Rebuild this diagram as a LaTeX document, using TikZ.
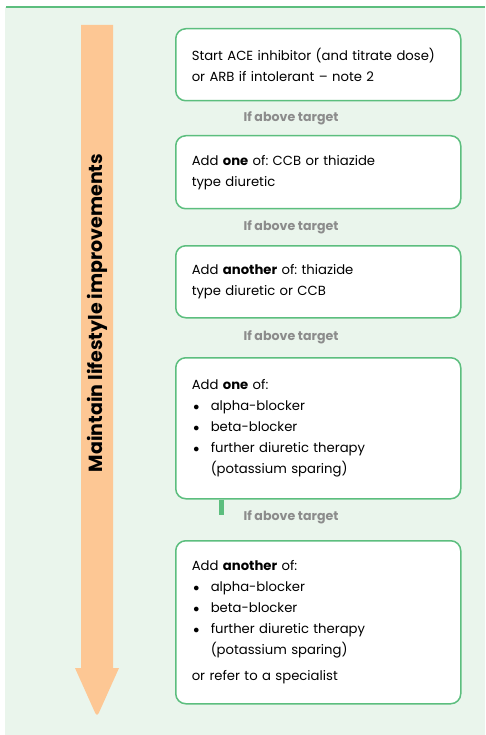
\documentclass[tikz,border=0pt]{standalone}
\usepackage{fontspec}
\setmainfont{Poppins}
\frenchspacing
\usetikzlibrary{positioning}
\definecolor{panelgreen}{HTML}{EAF5EC}
\definecolor{linegreen}{HTML}{5CBE7E}
\definecolor{arroworange}{HTML}{FDC794}
\definecolor{labelgrey}{HTML}{8C8C8C}
\newcommand{\stepfont}{\fontsize{13.2}{21}\selectfont}
\newcommand{\ifabovefont}{\bfseries\fontsize{12.6}{14}\selectfont}
\newcommand{\bitem}{\makebox[19pt][l]{\hspace{1.5pt}$\bullet$}}
\tikzstyle{stepbox}=[draw=linegreen, line width=1.5pt, fill=white, rounded corners=10pt,
                     text width=253pt, inner xsep=16pt, inner ysep=0pt, align=left,
                     font=\stepfont, anchor=north west]
\tikzstyle{ifabove}=[font=\ifabovefont, text=labelgrey, inner sep=0pt]
\tikzstyle{stub}=[draw=linegreen, line width=5pt]

\begin{document}
\begin{tikzpicture}[x=1pt, y=-1pt]
    \useasboundingbox (0,0) rectangle (485,735);
    % Panel and top rule
    \fill[panelgreen] (5,7) rectangle (485,735);
    \draw[linegreen, line width=2pt] (6,7) -- (485,7);
    % Lifestyle arrow
    \fill[arroworange] (81,25) -- (113,25) -- (113,668) -- (119,668)
        [rounded corners=4pt] -- (97,717) [sharp corners] -- (75,668) -- (81,668) -- cycle;
    \node[rotate=90, font=\bfseries\fontsize{19}{20}\selectfont] (lifestyle) at (97,313) {Maintain lifestyle improvements};
    % Steps
    \node[stepbox, minimum height=72pt] (ace) at (175,28)
        {Start ACE inhibitor (and titrate dose)\\or ARB if intolerant -- note 2};
    \node[stepbox, minimum height=73pt] (addone) at (175,135)
        {Add \textbf{one} of: CCB or thiazide\\type diuretic};
    \node[stepbox, minimum height=72pt] (addanother) at (175,245)
        {Add \textbf{another} of: thiazide\\type diuretic or CCB};
    \node[stepbox, minimum height=141pt] (addonemore) at (175,357)
        {Add \textbf{one} of:\\\bitem alpha-blocker\\\bitem beta-blocker\\\bitem further diuretic therapy\\\hspace*{19pt}(potassium sparing)};
    \node[stepbox, minimum height=163pt] (specialist) at (175,540)
        {Add \textbf{another} of:\\\bitem alpha-blocker\\\bitem beta-blocker\\\bitem further diuretic therapy\\\hspace*{19pt}(potassium sparing)\\[5pt]or refer to a specialist};
    % Labels between steps
    \node[ifabove] (above1) at (291,118) {If above target};
    \node[ifabove] (above2) at (291,227) {If above target};
    \node[ifabove] (above3) at (291,337) {If above target};
    \node[ifabove] (above4) at (291,517) {If above target};
    \coordinate (stubend) at (221,515);
    \draw[stub] (addonemore.south -| stubend) -- (stubend);
\end{tikzpicture}
\end{document}
